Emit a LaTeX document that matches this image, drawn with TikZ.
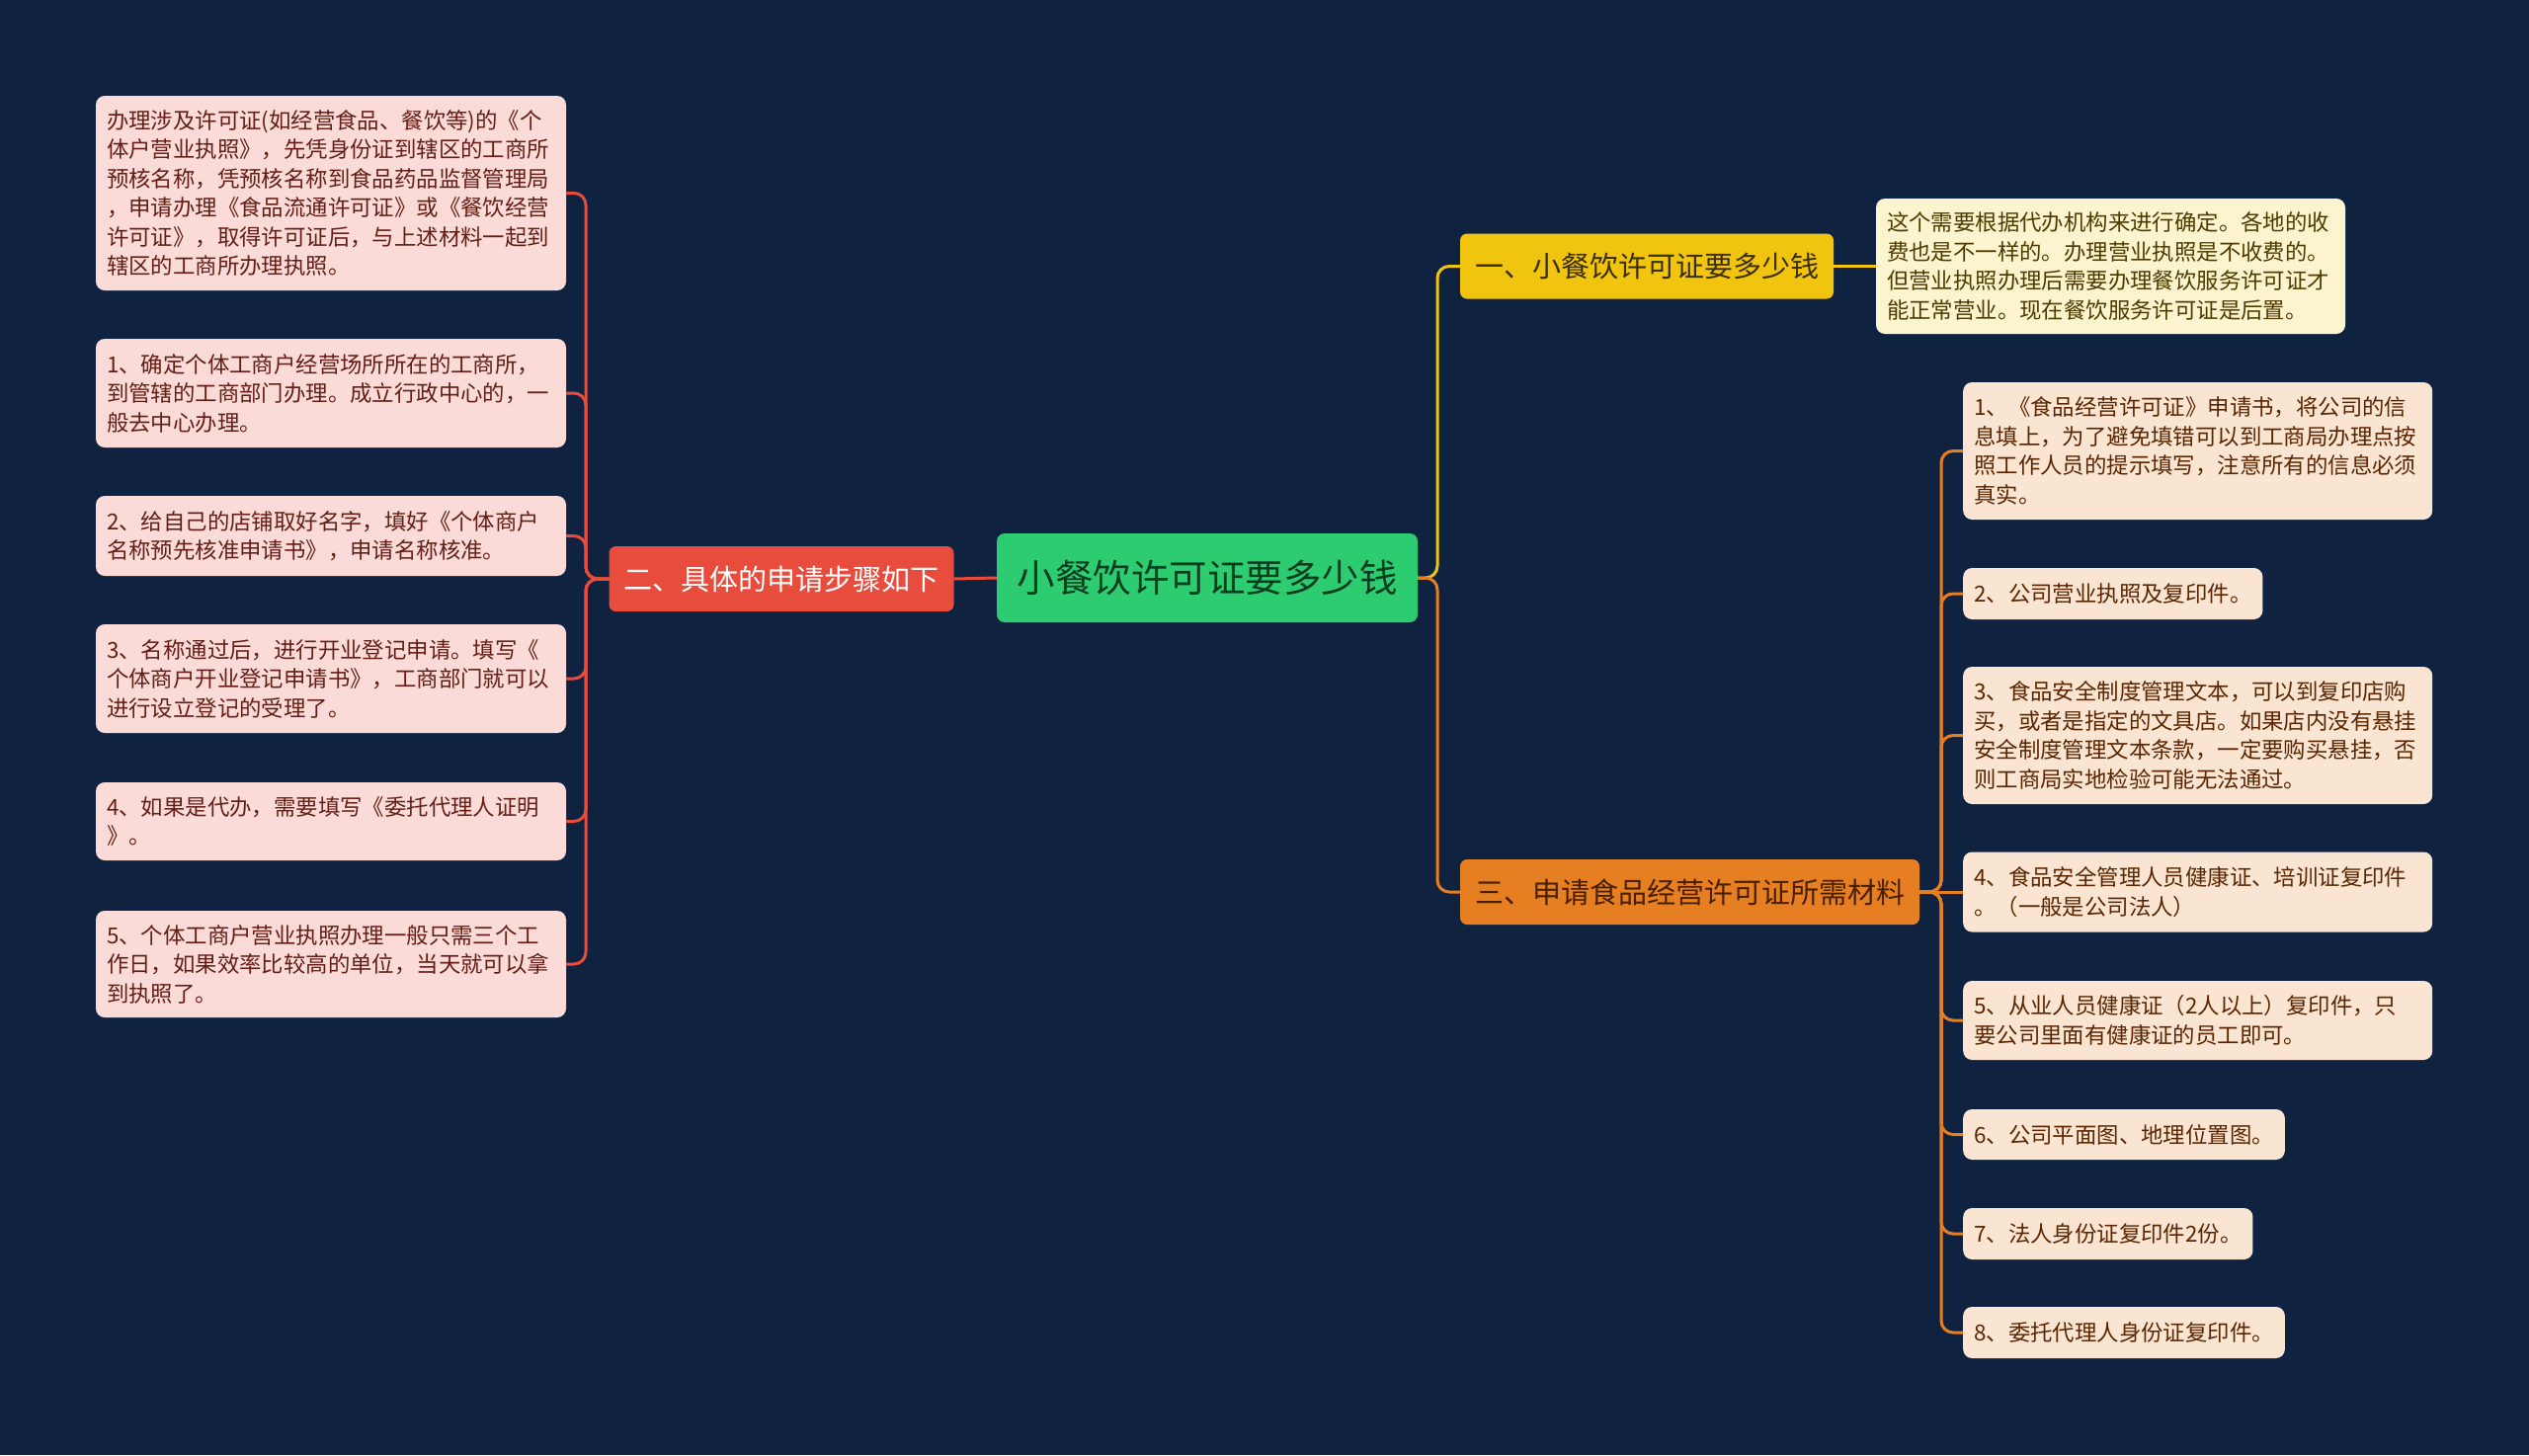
\documentclass[tikz,border=0pt]{standalone}
\usepackage{fontspec}
\setmainfont{Noto Sans CJK SC}
\definecolor{bg}{HTML}{0F2340}
\definecolor{rootgreen}{HTML}{2ECC71}
\definecolor{rootink}{HTML}{0B3D1F}
\definecolor{redbr}{HTML}{E74C3C}
\definecolor{yelbr}{HTML}{F1C40F}
\definecolor{yelink}{HTML}{3B2F00}
\definecolor{orabr}{HTML}{E67E22}
\definecolor{oraink}{HTML}{4A1F00}
\definecolor{pinkleaf}{HTML}{FADBD8}
\definecolor{pinkink}{HTML}{641E16}
\definecolor{creamleaf}{HTML}{FCF3CF}
\definecolor{creamink}{HTML}{4D3B00}
\definecolor{peachleaf}{HTML}{FAE5D3}
\definecolor{peachink}{HTML}{5A2500}
\tikzset{every node/.style={inner sep=0pt},
  rootbox/.style={fill=rootgreen, text=rootink, rounded corners=8pt, minimum width=426pt, minimum height=90pt, font=\fontsize{38.5}{46}\selectfont},
  branch/.style={rounded corners=7pt, inner xsep=15pt, minimum height=66pt, font=\fontsize{29}{35}\selectfont},
  leaf/.style={rounded corners=9pt, inner xsep=11pt, align=left, font=\fontsize{22.4}{29.5}\selectfont},
  leafL/.style={leaf, fill=pinkleaf, text=pinkink, text width=454pt},
  leafY/.style={leaf, fill=creamleaf, text=creamink, text width=453pt},
  leafO/.style={leaf, fill=peachleaf, text=peachink, anchor=west},
  lnL/.style={redbr, line width=3pt, rounded corners=12pt},
  lnY/.style={yelbr, line width=3pt, rounded corners=12pt},
  lnO/.style={orabr, line width=3pt, rounded corners=12pt}}

\begin{document}
\begin{tikzpicture}[x=1pt, y=-1pt]
  \fill[bg] (0,0) rectangle (2560,1473);
  \useasboundingbox (0,0) rectangle (2560,1473);

  % centre and main branches
  \node[rootbox] (root) at (1222,585) {小餐饮许可证要多少钱};
  \node[branch, fill=redbr, text=white] (b2) at (791,586) {二、具体的申请步骤如下};
  \node[branch, fill=yelbr, text=yelink] (b1) at (1667,269.5) {一、小餐饮许可证要多少钱};
  \node[branch, fill=orabr, text=oraink] (b3) at (1710.5,903) {三、申请食品经营许可证所需材料};

  % left side
  \node[leafL, minimum height=197pt] (l0) at (335,195.5) {办理涉及许可证(如经营食品、餐饮等)的《个\\体户营业执照》，先凭身份证到辖区的工商所\\预核名称，凭预核名称到食品药品监督管理局\\，申请办理《食品流通许可证》或《餐饮经营\\许可证》，取得许可证后，与上述材料一起到\\辖区的工商所办理执照。};
  \node[leafL, minimum height=110pt] (l1) at (335,398) {1、确定个体工商户经营场所所在的工商所，\\到管辖的工商部门办理。成立行政中心的，一\\般去中心办理。};
  \node[leafL, minimum height=81pt] (l2) at (335,542.5) {2、给自己的店铺取好名字，填好《个体商户\\名称预先核准申请书》，申请名称核准。};
  \node[leafL, minimum height=110pt] (l3) at (335,687) {3、名称通过后，进行开业登记申请。填写《\\个体商户开业登记申请书》，工商部门就可以\\进行设立登记的受理了。};
  \node[leafL, minimum height=79pt] (l4) at (335,831.5) {4、如果是代办，需要填写《委托代理人证明\\》。};
  \node[leafL, minimum height=108pt] (l5) at (335,976) {5、个体工商户营业执照办理一般只需三个工\\作日，如果效率比较高的单位，当天就可以拿\\到执照了。};

  % right side
  \node[leafY, minimum height=137pt] (r0) at (2136.5,269.5) {这个需要根据代办机构来进行确定。各地的收\\费也是不一样的。办理营业执照是不收费的。\\但营业执照办理后需要办理餐饮服务许可证才\\能正常营业。现在餐饮服务许可证是后置。};
  \node[leafO, text width=453pt, minimum height=139pt] (m1) at (1987,456.5) {1、《食品经营许可证》申请书，将公司的信\\息填上，为了避免填错可以到工商局办理点按\\照工作人员的提示填写，注意所有的信息必须\\真实。};
  \node[leafO, minimum height=52pt] (m2) at (1987,601) {2、公司营业执照及复印件。};
  \node[leafO, text width=453pt, minimum height=139pt] (m3) at (1987,744.5) {3、食品安全制度管理文本，可以到复印店购\\买，或者是指定的文具店。如果店内没有悬挂\\安全制度管理文本条款，一定要购买悬挂，否\\则工商局实地检验可能无法通过。};
  \node[leafO, text width=453pt, minimum height=81pt] (m4) at (1987,903) {4、食品安全管理人员健康证、培训证复印件\\。（一般是公司法人）};
  \node[leafO, text width=453pt, minimum height=80pt] (m5) at (1987,1033) {5、从业人员健康证（2人以上）复印件，只\\要公司里面有健康证的员工即可。};
  \node[leafO, minimum height=51pt] (m6) at (1987,1148.5) {6、公司平面图、地理位置图。};
  \node[leafO, minimum height=52pt] (m7) at (1987,1249) {7、法人身份证复印件2份。};
  \node[leafO, minimum height=52pt] (m8) at (1987,1349) {8、委托代理人身份证复印件。};

  % connectors
  \coordinate (jl) at (593,586);
  \coordinate (jr) at (1455,585);
  \coordinate (j3) at (1965,903);
  \draw[lnL] (root.west) -- (b2.east);
  \foreach \n in {l0,l1,l2,l3,l4,l5}
    \draw[lnL] (b2.west) -- (jl) |- (\n.east);
  \draw[lnY] (root.east) -- (jr) |- (b1.west);
  \draw[lnO] (root.east) -- (jr) |- (b3.west);
  \draw[lnY] (b1.east) -- (r0.west);
  \foreach \n in {m1,m2,m3,m5,m6,m7,m8}
    \draw[lnO] (b3.east) -- (j3) |- (\n.west);
  \draw[lnO] (b3.east) -- (m4.west);
\end{tikzpicture}
\end{document}
